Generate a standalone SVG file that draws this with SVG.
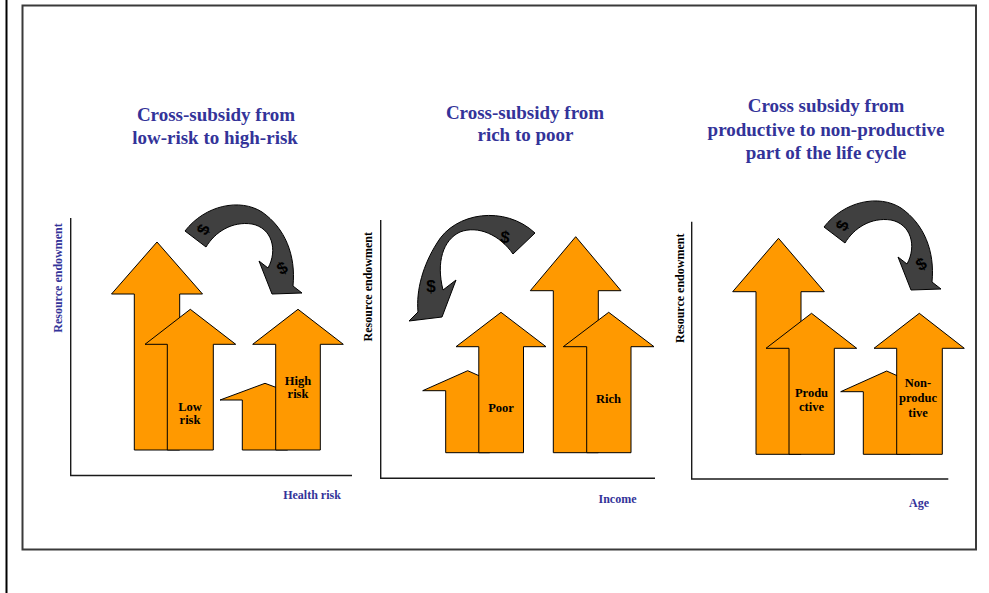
<svg xmlns="http://www.w3.org/2000/svg" xmlns:xlink="http://www.w3.org/1999/xlink" width="989" height="593" viewBox="0 0 989 593">
<style>
.up{fill:#FF9900;stroke:#000;stroke-width:1;stroke-linejoin:miter}
.axis{fill:none;stroke:#1a1a1a;stroke-width:1.4}
.title{font-family:"Liberation Serif","Times New Roman",serif;font-weight:bold;font-size:19px;fill:#333399;text-anchor:middle}
.ax{font-family:"Liberation Serif","Times New Roman",serif;font-weight:bold;font-size:12px;text-anchor:middle}
.lbl{font-family:"Liberation Serif","Times New Roman",serif;font-weight:bold;font-size:12.5px;fill:#000;text-anchor:middle}
.blue{fill:#333399}
.blk{fill:#000}
.curve{fill:#404040;stroke:#000;stroke-width:1;stroke-linejoin:round}
.dol{font-family:"Liberation Sans",Arial,sans-serif;font-weight:bold;font-size:17px;fill:#000;text-anchor:middle}
</style>
<defs>
<path id="cw" d="M185,231 C205,205 240,198 262,212 C285,228 296,255 293,286 L302,293 L272,294 L259,261 L268,268 C278,250 272,228 252,224 C232,221 215,232 206,247 Z"/>
</defs>
<rect width="989" height="593" fill="#fff"/>
<line x1="6.5" y1="0" x2="6.5" y2="593" stroke="#000" stroke-width="2"/>
<rect x="22.5" y="5.5" width="953.5" height="544" fill="none" stroke="#3a3a3a" stroke-width="2"/>

<!-- Panel 1 -->
<g id="panel1">
<text class="title" x="216" y="120.5">Cross-subsidy from</text>
<text class="title" x="215" y="143.5">low-risk to high-risk</text>
<polyline class="axis" points="70.7,218 70.7,475.5 352,475.5"/>
<text class="ax blue" transform="translate(58,278) rotate(-90)" y="4">Resource endowment</text>
<text class="ax blue" x="312" y="499">Health risk</text>
<g id="p1-tall"><polygon class="up" points="157,242 202.5,294 179.7,294 179.7,450 134.3,450 134.3,294 111.5,294"/></g>
<g id="p1-low"><polygon class="up" points="190.3,309.3 235.7,344.3 213.3,344.3 213.3,450 167.3,450 167.3,344.3 145,344.3"/>
<text class="lbl" x="190" y="410.7">Low</text><text class="lbl" x="190" y="424">risk</text></g>
<g id="p1-small"><polygon class="up" points="265,383.3 310,400 287.7,400 287.7,450 242.3,450 242.3,400 220,400"/></g>
<g id="p1-high"><polygon class="up" points="298,309.3 343.3,344.3 320.3,344.3 320.3,450 275.7,450 275.7,344.3 252.7,344.3"/>
<text class="lbl" x="298" y="385">High</text><text class="lbl" x="298" y="398.3">risk</text></g>
</g>

<!-- Panel 2 -->
<g id="panel2">
<text class="title" x="525" y="118.5">Cross-subsidy from</text>
<text class="title" x="525.5" y="140.5">rich to poor</text>
<polyline class="axis" points="380.7,220 380.7,478.3 655,478.3"/>
<text class="ax blk" transform="translate(368,286.7) rotate(-90)" y="4">Resource endowment</text>
<text class="ax blue" x="617.5" y="503">Income</text>
<g id="p2-small"><polygon class="up" points="467.7,370.7 512.7,390.7 489.7,390.7 489.7,452.7 445.7,452.7 445.7,390.7 422.7,390.7"/></g>
<g id="p2-poor"><polygon class="up" points="501,312.3 546,346.7 523.5,346.7 523.5,452.7 478.8,452.7 478.8,346.7 456,346.7"/>
<text class="lbl" x="501" y="412.3">Poor</text></g>
<g id="p2-tall"><polygon class="up" points="575.7,236.7 621,290.7 598.3,290.7 598.3,452.7 553.3,452.7 553.3,290.7 530.3,290.7"/></g>
<g id="p2-rich"><polygon class="up" points="608.7,312.3 654,346.7 631,346.7 631,452.7 586.7,452.7 586.7,346.7 563.3,346.7"/>
<text class="lbl" x="608.5" y="403.3">Rich</text></g>
</g>

<!-- Panel 3 -->
<g id="panel3">
<text class="title" x="826" y="111.5">Cross subsidy from</text>
<text class="title" x="826" y="135.5">productive to non-productive</text>
<text class="title" x="826" y="158.5">part of the life cycle</text>
<polyline class="axis" points="691.7,221.7 691.7,479 948.3,479"/>
<text class="ax blk" transform="translate(680,288.3) rotate(-90)" y="4">Resource endowment</text>
<text class="ax blue" x="919" y="507">Age</text>
<g id="p3-tall"><polygon class="up" points="778.5,238.3 824.3,291.7 801,291.7 801,454.3 756,454.3 756,291.7 732.7,291.7"/></g>
<g id="p3-productive"><polygon class="up" points="811.5,313.3 856.7,348.3 834.3,348.3 834.3,454.3 789,454.3 789,348.3 766,348.3"/>
<text class="lbl" x="811.5" y="397.3">Produ</text><text class="lbl" x="811.5" y="411.3">ctive</text></g>
<g id="p3-small"><polygon class="up" points="886.7,371 932.7,391.7 910,391.7 910,454.3 863.3,454.3 863.3,391.7 840.7,391.7"/></g>
<g id="p3-nonproductive"><polygon class="up" points="919.3,313.3 964.3,348.3 942.3,348.3 942.3,454.3 896.7,454.3 896.7,348.3 874,348.3"/>
<text class="lbl" x="918" y="387">Non-</text><text class="lbl" x="918" y="401.5">produc</text><text class="lbl" x="918" y="417">tive</text></g>
</g>

<!-- Curved money-flow arrows -->
<g id="connectors">
<g id="flow1">
<use xlink:href="#cw" href="#cw" class="curve"/>
<text class="dol" transform="translate(203,229.5) rotate(-65)" y="6">$</text>
<text class="dol" transform="translate(282,268) rotate(-30)" y="6">$</text>
</g>
<g id="flow2">
<path class="curve" d="M535,233 C505,205 455,212 437,243 C423,265 416,290 418,312 L409,321 L442,317 L456,280 L443,290 C436,262 443,240 460,232 C478,225 500,235 513,254 Z"/>
<text class="dol" transform="translate(505,237) rotate(8)" y="6">$</text>
<text class="dol" transform="translate(431,286)" y="6">$</text>
</g>
<g id="flow3" transform="translate(639,-4)">
<use xlink:href="#cw" href="#cw" class="curve"/>
<text class="dol" transform="translate(203,229.5) rotate(-65)" y="6">$</text>
<text class="dol" transform="translate(282,268) rotate(-30)" y="6">$</text>
</g>
</g>
</svg>
